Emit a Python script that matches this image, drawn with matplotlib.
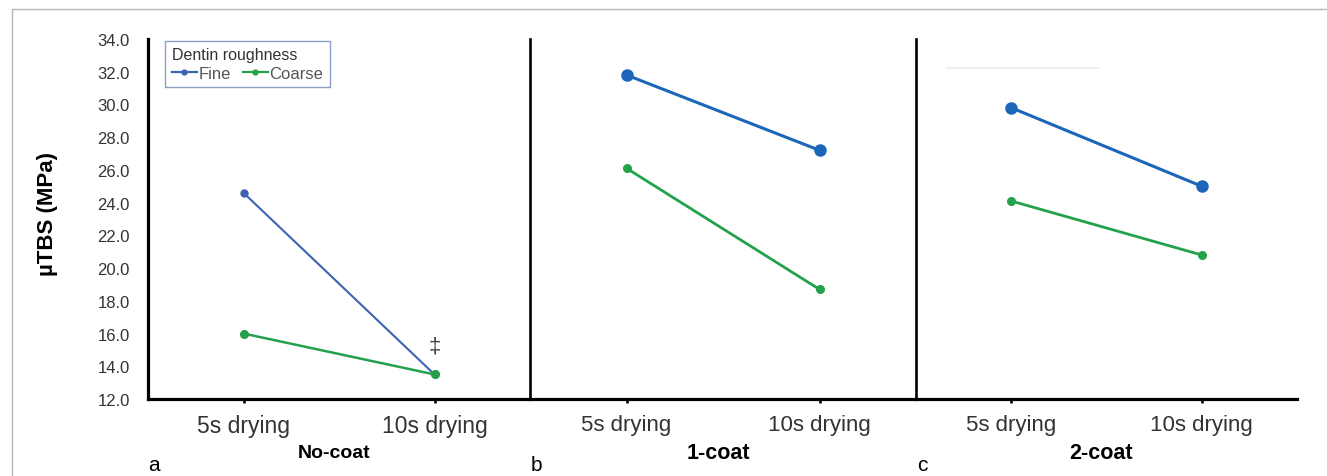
"""
Dentin roughness x drying time, three coating panels (µTBS line plot).
"""

import matplotlib
matplotlib.use("Agg")
import matplotlib.pyplot as plt
from matplotlib.patches import Rectangle
from matplotlib.lines import Line2D

plt.rcParams['font.family'] = ['Liberation Sans', 'DejaVu Sans']

# data
drying = ["5s drying", "10s drying"]
panels = ["No-coat", "1-coat", "2-coat"]
panel_tags = ["a", "b", "c"]
fine = [[24.6, 13.5], [31.8, 27.2], [29.8, 25.0]]
coarse = [[16.0, 13.5], [26.1, 18.7], [24.1, 20.8]]
y_ticks = [12.0, 14.0, 16.0, 18.0, 20.0, 22.0, 24.0, 26.0, 28.0, 30.0, 32.0, 34.0]

BLUE_A = "#3d63b3"
BLUE = "#1b66b8"
GREEN = "#23a24b"

W, H = 1327, 477
fig = plt.figure(figsize=(W / 100, H / 100), dpi=100)

# outer grey frame (only top and left visible in the crop)
fig.patches.append(Rectangle((12 / W, -0.1), 1.2, 1 - 10 / H + 0.1, transform=fig.transFigure,
                             fill=False, edgecolor="#b5b5b5", linewidth=1.0))

# axes boxes in pixels: (left, right)
boxes = [(148, 530), (530, 916), (916, 1297)]
top_px, bottom_px = 40, 400

axes = []
for i, (l, r) in enumerate(boxes):
    ax = fig.add_axes((l / W, (H - bottom_px) / H, (r - l) / W, (bottom_px - top_px) / H))
    ax.patch.set_alpha(0)
    ax.set_xlim(-0.5, 1.5)
    ax.set_ylim(12, 34)
    for s in ("top", "right"):
        ax.spines[s].set_visible(False)
    ax.spines["left"].set_linewidth(2.3 if i == 0 else 1.9)
    ax.spines["bottom"].set_linewidth(2.3)
    ax.set_xticks([0, 1])
    ax.tick_params(axis="x", length=3, width=1.8, direction="out", pad=8)
    if i == 0:
        ax.set_xticklabels(drying, fontsize=16.5, color="#333333")
        ax.set_yticks(y_ticks)
        ax.set_yticklabels([f"{v:.1f}" for v in y_ticks], fontsize=12, color="#333333")
        ax.tick_params(axis="y", length=0, pad=13)
        ax.plot([0, 1], fine[i], color=BLUE_A, lw=1.5, marker="o", ms=5, zorder=3)
        ax.plot([0, 1], coarse[i], color=GREEN, lw=1.8, marker="o", ms=5.5, zorder=4)
    else:
        ax.set_xticklabels(drying, fontsize=16, color="#333333")
        ax.set_yticks([])
        ax.plot([0, 1], fine[i], color=BLUE, lw=2.2, marker="o", ms=8, zorder=3)
        ax.plot([0, 1], coarse[i], color=GREEN, lw=2.0, marker="o", ms=5.5, zorder=4)
    axes.append(ax)

# panel titles and letters under the axes
for i, (l, r) in enumerate(boxes):
    cx = (l + r) / 2 / W
    fig.text(cx - 5 / W, 1 - 454 / H, panels[i], ha="center", va="center",
             fontsize=14 if i == 0 else 15.5, fontweight="bold")
    fig.text((l + 6) / W, 1 - 466 / H, panel_tags[i], ha="center", va="center", fontsize=15)

# significance mark
axes[0].text(1, 15.25, "‡", ha="center", va="center", fontsize=16, color="#444444")

# faint artefact line in panel c
axes[2].axhline(32.2, xmin=0.08, xmax=0.48, color="#ececec", lw=1.2)

fig.text(47 / W, 1 - 214 / H, "µTBS (MPa)", rotation=90, ha="center", va="center",
         fontsize=16, fontweight="bold")

handles = [Line2D([], [], color=BLUE_A, lw=1.6, marker="o", ms=3.5, label="Fine"),
           Line2D([], [], color=GREEN, lw=1.6, marker="o", ms=3.5, label="Coarse")]
leg = axes[0].legend(handles=handles, title="Dentin roughness", ncol=2, loc="upper left",
                     bbox_to_anchor=(0.045, 0.995), borderaxespad=0, fontsize=12,
                     title_fontsize=11.5, handlelength=1.5, handletextpad=0.1,
                     columnspacing=0.7, borderpad=0.4, labelspacing=0.2, fancybox=False,
                     edgecolor="#6a85b3", alignment="left")
leg.get_frame().set_linewidth(1.0)
for t in leg.get_texts():
    t.set_color("#555555")
leg.get_title().set_color("#333333")

fig.savefig("out.png", dpi=100)
